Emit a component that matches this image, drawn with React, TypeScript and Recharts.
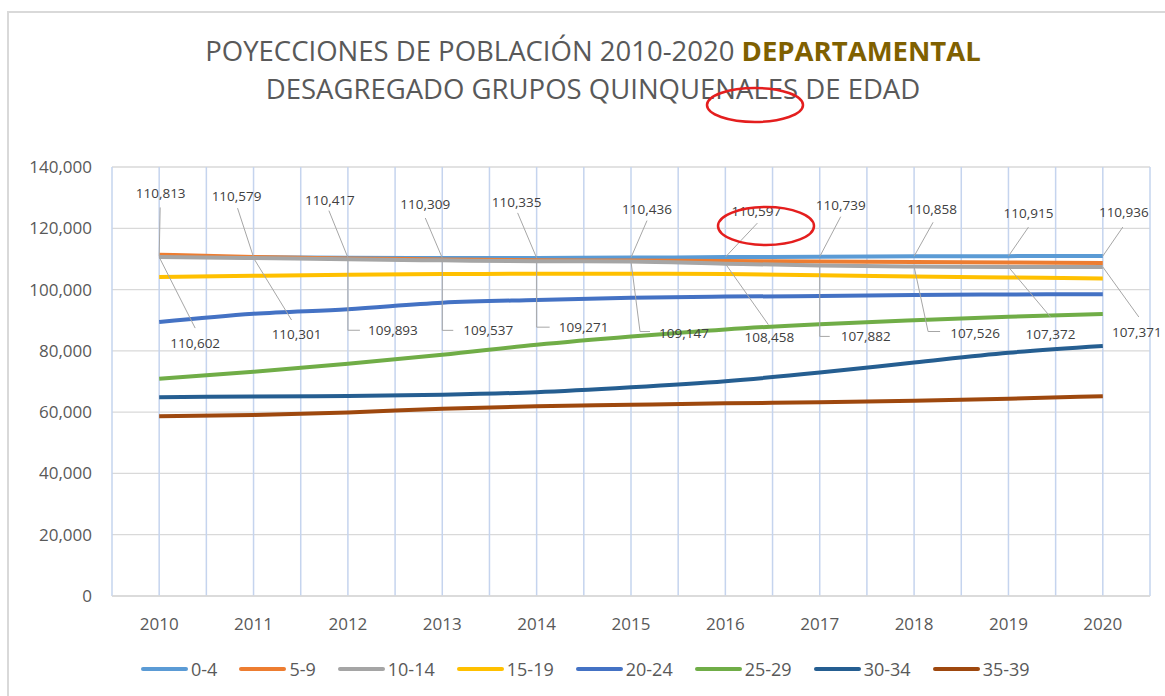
import { LineChart, Line, XAxis, YAxis, CartesianGrid, Legend } from "recharts";

// años
const years = [2010, 2011, 2012, 2013, 2014, 2015, 2016, 2017, 2018, 2019, 2020];

// grupos quinquenales
const g0_4 = [110813, 110579, 110417, 110309, 110335, 110436, 110597, 110739, 110858, 110915, 110936];
const g5_9 = [111380, 110650, 110150, 109850, 109600, 109450, 109300, 109150, 109000, 108850, 108700];
const g10_14 = [110602, 110301, 109893, 109537, 109271, 109147, 108458, 107882, 107526, 107372, 107371];
const g15_19 = [104100, 104500, 104850, 105050, 105150, 105200, 105100, 104650, 104300, 103950, 103650];
const g20_24 = [89400, 92100, 93600, 95700, 96600, 97300, 97700, 97900, 98200, 98400, 98500];
const g25_29 = [70900, 73200, 75800, 78700, 82000, 84700, 87000, 88700, 90000, 91100, 92000];
const g30_34 = [64900, 65100, 65300, 65700, 66500, 68100, 70100, 72900, 76200, 79400, 81600];
const g35_39 = [58700, 59100, 59900, 61100, 61900, 62400, 62900, 63200, 63700, 64400, 65200];

const yTicks = [0, 20000, 40000, 60000, 80000, 100000, 120000, 140000];

const series = [
  { key: "0-4", values: g0_4, color: "#5b9bd5" },
  { key: "5-9", values: g5_9, color: "#ed7d31" },
  { key: "10-14", values: g10_14, color: "#a5a5a5" },
  { key: "15-19", values: g15_19, color: "#ffc000" },
  { key: "20-24", values: g20_24, color: "#4472c4" },
  { key: "25-29", values: g25_29, color: "#70ad47" },
  { key: "30-34", values: g30_34, color: "#255e91" },
  { key: "35-39", values: g35_39, color: "#9e480e" },
];

const data = years.map((year, i) => {
  const row: Record<string, number> = { year };
  series.forEach((s) => (row[s.key] = s.values[i]));
  return row;
});

// líneas de cuadrícula verticales en cada año y a mitad de camino
const xTicks = [...years.flatMap((y) => [y - 0.5, y]), years[years.length - 1] + 0.5];

// posición de las etiquetas (desplazamiento respecto al punto) y su línea guía
type Spot = { tx: number; ty: number; path: number[][] };
const topSpots: Spot[] = [
  { tx: 1.5, ty: -63, path: [[1, -49]] },
  { tx: -17, ty: -61, path: [[-16, -49]] },
  { tx: -18, ty: -58, path: [[-19, -47]] },
  { tx: -17, ty: -54, path: [[-17, -40]] },
  { tx: -20, ty: -56, path: [[-19, -45]] },
  { tx: 16, ty: -49, path: [[16, -37]] },
  { tx: 31, ty: -46, path: [[32, -34]] },
  { tx: 21, ty: -52, path: [[21, -40]] },
  { tx: 18, ty: -47, path: [[19, -34]] },
  { tx: 20, ty: -43, path: [[20, -29]] },
  { tx: 21, ty: -44, path: [[20, -29]] },
];
const bottomSpots: Spot[] = [
  { tx: 36, ty: 86, path: [[36, 71]] },
  { tx: 43, ty: 76, path: [[38, 62]] },
  { tx: 45, ty: 71, path: [[0, 71], [12, 71]] },
  { tx: 46, ty: 70, path: [[0, 70], [11, 70]] },
  { tx: 47, ty: 66, path: [[0, 66], [13, 66]] },
  { tx: 53, ty: 71, path: [[9, 70], [19, 70]] },
  { tx: 44, ty: 73, path: [[43, 61]] },
  { tx: 46, ty: 71, path: [[0, 71], [10, 71]] },
  { tx: 61, ty: 66, path: [[14, 65], [26, 65]] },
  { tx: 42, ty: 67, path: [[42, 50]] },
  { tx: 34, ty: 65, path: [[36, 50]] },
];

const fmt = (v: number) => v.toLocaleString("en-US");

const leaderLabel = (spots: Spot[]) => (props: any) => {
  const x = props.x ?? props.viewBox?.x;
  const y = props.y ?? props.viewBox?.y;
  const spot = spots[props.index];
  if (!spot || x == null || y == null) return null;
  const pts = [[0, 0], ...spot.path].map(([dx, dy]) => `${x + dx},${y + dy}`).join(" ");
  return (
    <g key={`lbl-${props.index}`}>
      <polyline points={pts} fill="none" stroke="#a6a6a6" strokeWidth={1} />
      <text
        x={x + spot.tx}
        y={y + spot.ty}
        textAnchor="middle"
        dominantBaseline="central"
        fontSize={13.5}
        fill="#404040"
      >
        {fmt(props.value)}
      </text>
    </g>
  );
};

const LegendContent = () => (
  <div style={{ display: "flex", alignItems: "center", fontSize: 18, color: "#595959" }}>
    {series.map((s) => (
      <div key={s.key} style={{ display: "flex", alignItems: "center", marginRight: 22 }}>
        <span style={{ width: 47, height: 4, borderRadius: 2, background: s.color, marginRight: 3 }} />
        <span>{s.key}</span>
      </div>
    ))}
  </div>
);

export default function App() {
  return (
    <div
      style={{
        position: "fixed",
        left: 0,
        top: 0,
        width: 1165,
        height: 696,
        overflow: "hidden",
        background: "#fff",
        fontFamily: "'Open Sans', sans-serif",
      }}
    >
      <div
        style={{
          position: "absolute",
          left: 7,
          top: 11,
          width: 1175,
          height: 720,
          border: "2px solid #d9d9d9",
          boxSizing: "border-box",
        }}
      />
      <div
        style={{
          position: "absolute",
          left: 0,
          top: 32,
          width: 1186,
          textAlign: "center",
          fontSize: 27.5,
          lineHeight: "38px",
          color: "#595959",
        }}
      >
        <div>
          POYECCIONES DE POBLACIÓN 2010-2020{" "}
          <span style={{ fontWeight: 700, color: "#7f6000" }}>DEPARTAMENTAL</span>
        </div>
        <div>DESAGREGADO GRUPOS QUINQUENALES DE EDAD</div>
      </div>
      <div style={{ position: "absolute", left: 0, top: 0 }}>
        <LineChart
          width={1165}
          height={696}
          data={data}
          margin={{ top: 167, right: 15, bottom: 60, left: 12 }}
        >
          <CartesianGrid vertical={false} stroke="#d9d9d9" strokeWidth={1.3} />
          <CartesianGrid horizontal={false} stroke="#c5d4ee" strokeWidth={1.5} />
          <XAxis
            type="number"
            dataKey="year"
            domain={[2009.5, 2020.5]}
            ticks={xTicks}
            interval={0}
            tickFormatter={(v) => (Number.isInteger(v) ? String(v) : "")}
            axisLine={{ stroke: "#d9d9d9", strokeWidth: 1.3 }}
            tickLine={false}
            tickMargin={16}
            height={40}
            tick={{ fill: "#595959", fontSize: 17 }}
          />
          <YAxis
            domain={[0, 140000]}
            ticks={yTicks}
            tickFormatter={fmt}
            axisLine={false}
            tickLine={false}
            tickMargin={14}
            width={100}
            tick={{ fill: "#595959", fontSize: 17 }}
          />
          <Legend
            layout="horizontal"
            verticalAlign="middle"
            align="center"
            content={() => <LegendContent />}
            wrapperStyle={{ left: 141, top: 657, width: "auto", height: 24 }}
          />
          {series.map((s) => (
            <Line
              key={s.key}
              type="monotone"
              dataKey={s.key}
              stroke={s.color}
              strokeWidth={4}
              dot={false}
              activeDot={false}
              isAnimationActive={false}
            />
          ))}
          {/* etiquetas encima de todas las series */}
          <Line
            dataKey="0-4"
            stroke="none"
            dot={false}
            activeDot={false}
            legendType="none"
            isAnimationActive={false}
            label={leaderLabel(topSpots)}
          />
          <Line
            dataKey="10-14"
            stroke="none"
            dot={false}
            activeDot={false}
            legendType="none"
            isAnimationActive={false}
            label={leaderLabel(bottomSpots)}
          />
        </LineChart>
      </div>
      <svg
        width={1165}
        height={696}
        style={{ position: "absolute", left: 0, top: 0, pointerEvents: "none" }}
      >
        <ellipse cx={755} cy={105} rx={48} ry={17} fill="none" stroke="#e41e1e" strokeWidth={2.5} />
        <ellipse cx={766} cy={226} rx={48} ry={19} fill="none" stroke="#e41e1e" strokeWidth={2.5} />
      </svg>
    </div>
  );
}
